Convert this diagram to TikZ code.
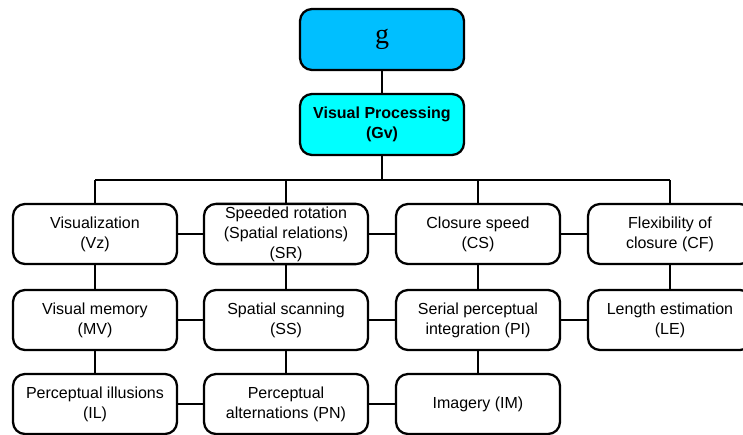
\documentclass[tikz,border=0pt]{standalone}
\usepackage{fontspec}
\setmainfont{Liberation Sans}
\newfontfamily\gserif{Liberation Serif}
\begin{document}
\begin{tikzpicture}[x=0.75pt,y=-0.75pt,
  box/.style={draw=black, line width=1.7pt, rounded corners=9pt, fill=white,
    minimum width=123pt, minimum height=45pt, align=center, inner sep=2pt,
    font=\fontsize{12}{15}\selectfont},
  link/.style={draw=black, line width=1.7pt}]
\useasboundingbox (0,0) rectangle (743,435);
% top
\node[box, fill={rgb,255:red,0;green,191;blue,255}, minimum height=45.75pt, font=\gserif\fontsize{21}{24}\selectfont] (g) at (382,39.5) {g};
\node[box, fill={rgb,255:red,0;green,255;blue,255}, minimum height=45.75pt, font=\bfseries\fontsize{12}{15}\selectfont] (gv) at (382,124.5) {Visual Processing\\(Gv)};
% row 1
\node[box] (vz) at (95,234) {Visualization\\(Vz)};
\node[box] (sr) at (286,234) {Speeded rotation\\(Spatial relations)\\(SR)};
\node[box] (cs) at (478,234) {Closure speed\\(CS)};
\node[box] (cf) at (670,234) {Flexibility of\\closure (CF)};
% row 2
\node[box] (mv) at (95,320) {Visual memory\\(MV)};
\node[box] (ss) at (286,320) {Spatial scanning\\(SS)};
\node[box] (pi) at (478,320) {Serial perceptual\\integration (PI)};
\node[box] (le) at (670,320) {Length estimation\\(LE)};
% row 3
\node[box] (il) at (95,404) {Perceptual illusions\\(IL)};
\node[box] (pn) at (286,404) {Perceptual\\alternations (PN)};
\node[box] (im) at (478,404) {Imagery (IM)};
% bus
\coordinate (bus) at (382,180);
\draw[link] (g) -- (gv);
\draw[link] (gv) -- (bus);
\draw[link] (vz.north |- bus) -- (cf.north |- bus);
\draw[link] (vz.north |- bus) -- (vz);
\draw[link] (sr.north |- bus) -- (sr);
\draw[link] (cs.north |- bus) -- (cs);
\draw[link] (cf.north |- bus) -- (cf);
% horizontal
\draw[link] (vz) -- (sr);
\draw[link] (sr) -- (cs);
\draw[link] (cs) -- (cf);
\draw[link] (mv) -- (ss);
\draw[link] (ss) -- (pi);
\draw[link] (pi) -- (le);
\draw[link] (il) -- (pn);
\draw[link] (pn) -- (im);
% vertical
\draw[link] (vz) -- (mv);
\draw[link] (mv) -- (il);
\draw[link] (sr) -- (ss);
\draw[link] (ss) -- (pn);
\draw[link] (cs) -- (pi);
\draw[link] (pi) -- (im);
\draw[link] (cf) -- (le);
\end{tikzpicture}
\end{document}
